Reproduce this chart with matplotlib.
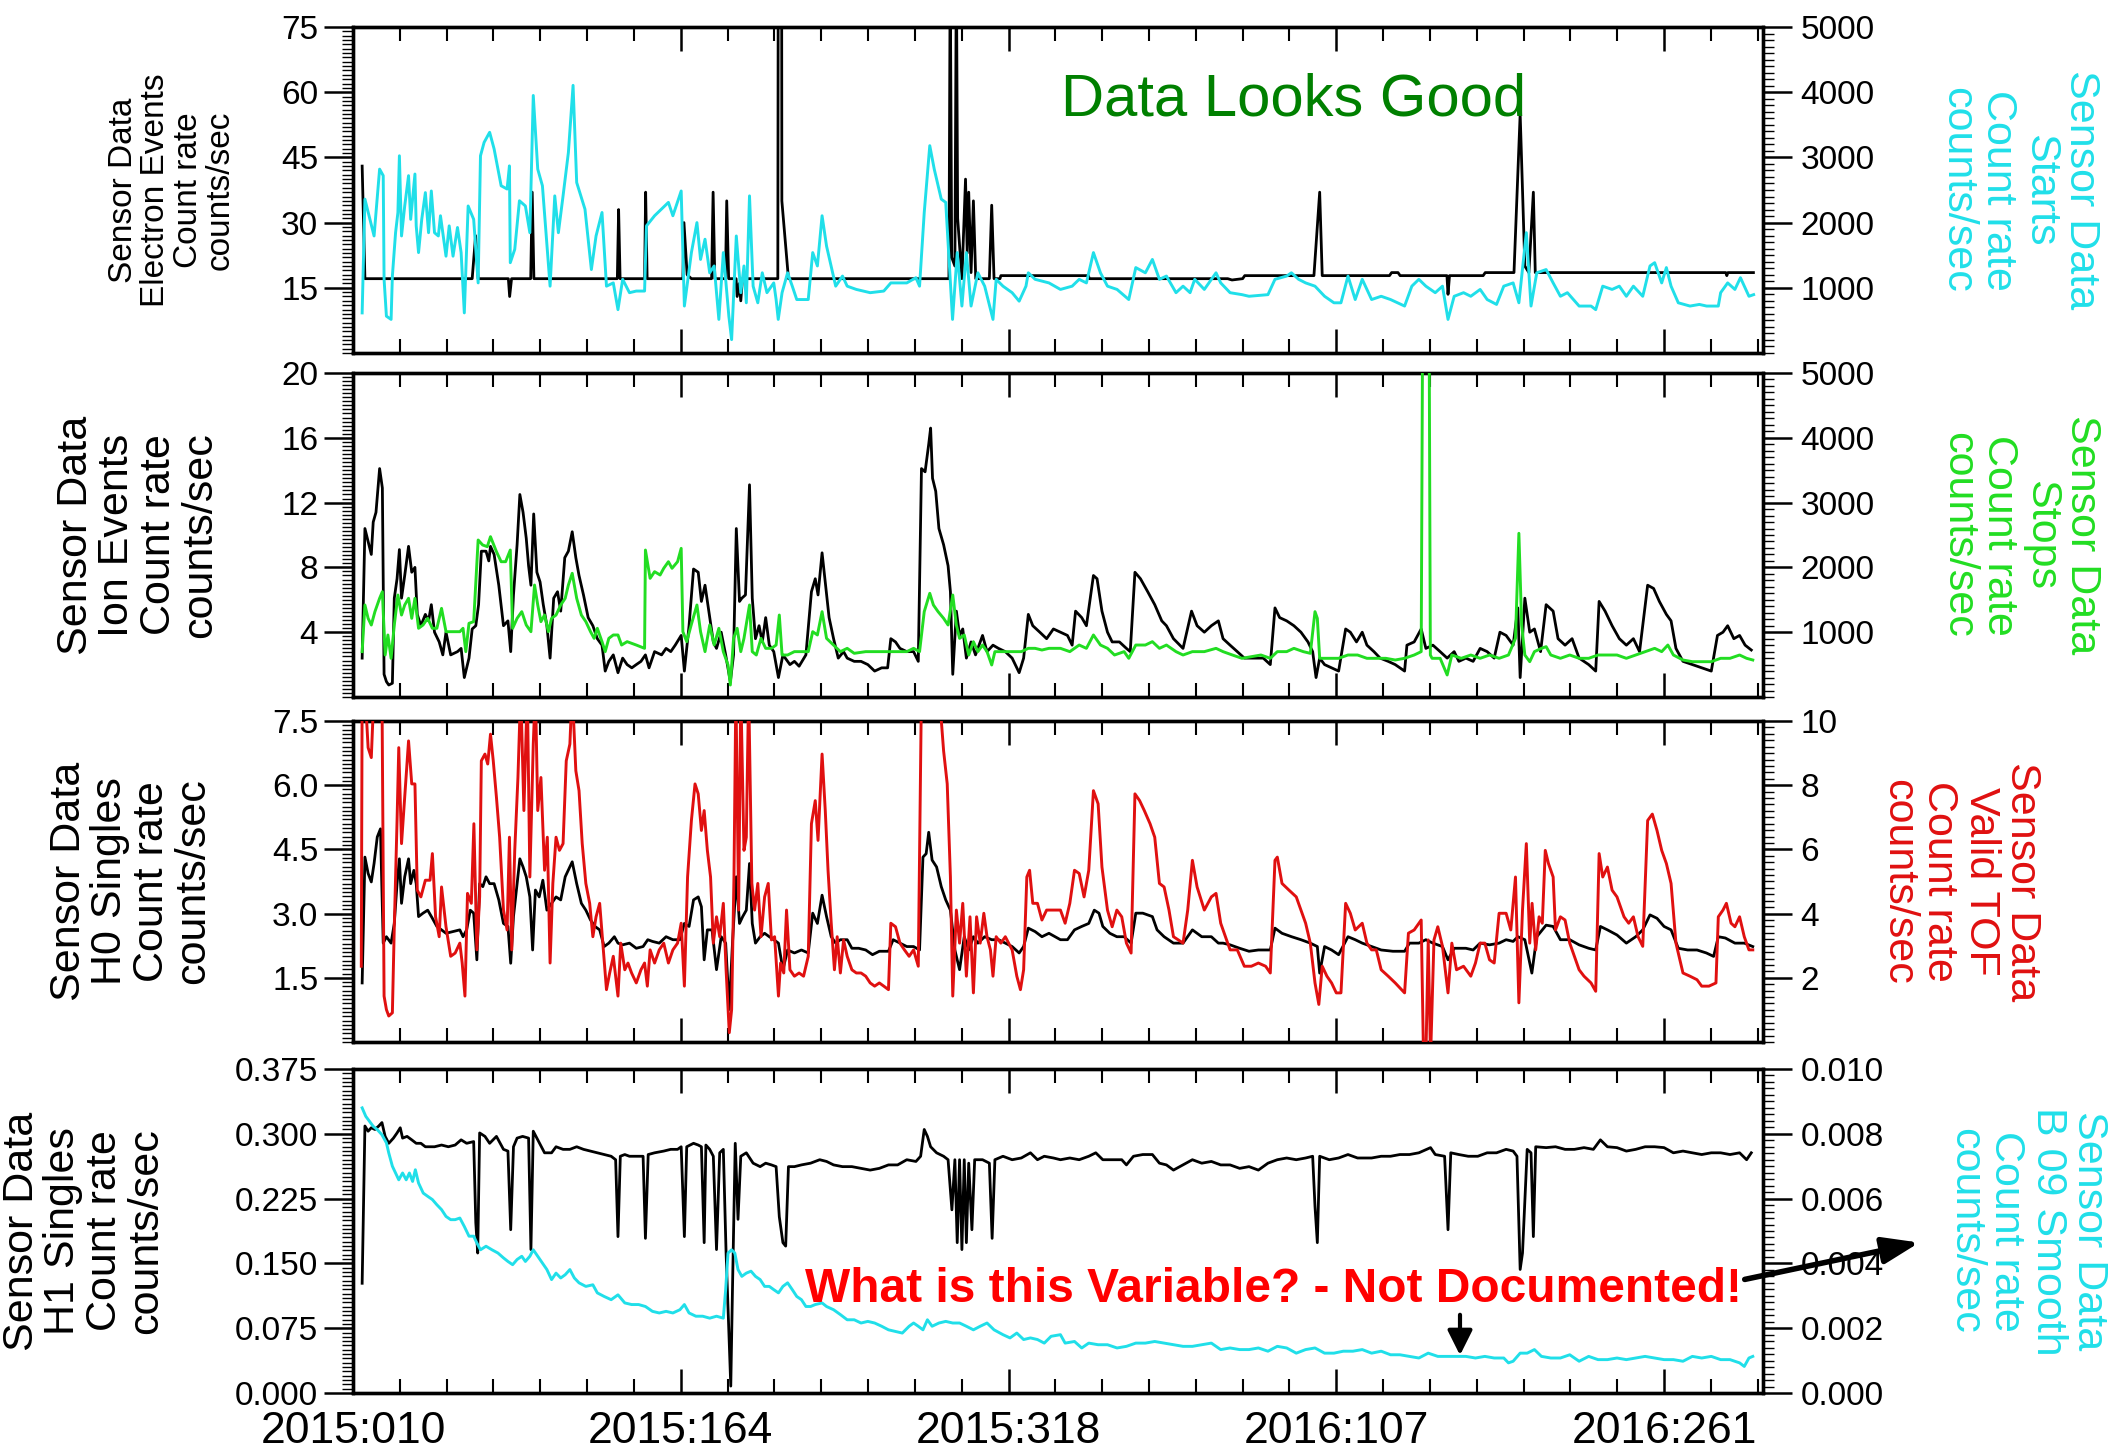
import matplotlib
matplotlib.use('Agg')
import matplotlib.pyplot as plt
from matplotlib import font_manager
from matplotlib.patches import FancyArrowPatch
from matplotlib.ticker import FixedLocator, MultipleLocator

W, H, DPI = 2114, 1448, 100

avail = {f.name for f in font_manager.fontManager.ttflist}
SANS = 'Liberation Sans' if 'Liberation Sans' in avail else 'DejaVu Sans'
plt.rcParams['font.family'] = [SANS, 'DejaVu Sans']

# ---------------- data (x = day counted from 2015:000) ----------------
X_TICKS = [10, 164, 318, 472, 626]
X_TICK_LABELS = ['2015:010', '2015:164', '2015:318', '2016:107', '2016:261']
X_RANGE = (10, 672.5)

ELECTRON_EVENTS = [(14.3,43),(15.6,17.1),(66.0,17.1),(67.6,27),(68.8,17.1),(83.0,17.1),(83.6,13),(84.5,17.1),
    (93.5,17.1),(94.2,37),(95.0,17.1),(134.2,17.1),(134.8,33),(135.5,17.1),(147.0,17.1),(147.5,37),(148.2,17.1),
    (165.0,17.1),(165.5,30),(167.0,18),(169.0,17.1),(178.5,17.1),(179.2,37),(180.0,17.1),(185.0,17.1),(185.6,35),
    (186.5,17.1),(190.0,17.1),(190.5,13),(191.5,16),(192.2,12),(193.0,17.1),(209.6,17.1),(209.8,90),(211.4,90),
    (211.5,35),(214.6,17.1),(290.0,17.1),(290.6,90),(291.3,22),(292.8,20),(293.5,90),(294.1,31),(296.1,17.1),
    (297.8,40),(298.6,23),(299.3,37),(300.4,18.5),(301.5,35),(302.6,17.1),(309.0,17.1),(310.1,34),(311.2,17.1),
    (314.0,17.1),(314.4,17.8),(355.5,17.8),(356.0,17.1),(421.0,17.1),(423.0,16.8),(428.0,17.1),(429.0,17.8),
    (461.5,17.8),(464.2,37),(465.4,17.8),(497.0,17.8),(498.0,18.5),(501.0,18.5),(502.0,17.8),(524.0,17.8),
    (524.5,13.5),(525.2,17.8),(541.0,17.8),(542.0,18.5),(555.5,18.5),(558.4,55),(560.6,20),(562.5,18.5),
    (564.6,37),(565.5,18.5),(655.0,18.5),(655.5,17.8),(656.0,18.5),(668.0,18.5)]

STARTS = [(14.3,615),(15.6,2360),(19.9,1795),(22.5,2820),(24.2,2720),(24.6,1130),(25.7,565),(27.9,515),(28.5,1180),
    (30.0,1845),(31.1,2155),(31.8,3025),(32.8,1795),(34.3,2255),(36.1,2720),(37.1,2050),(39.1,2745),(39.7,1950),
    (40.8,1540),(42.3,2050),(44.0,2460),(45.5,1845),(46.8,2485),(48.3,1845),(50.1,1795),(51.1,2105),(53.7,1485),
    (55.2,1950),(57.0,1485),(59.1,1925),(60.8,1540),(62.3,615),(64.1,2255),(66.7,2050),(68.8,1075),(69.9,3025),
    (71.6,3230),(74.2,3385),(76.3,3130),(79.6,2565),(82.4,2515),(83.5,2870),(83.9,1385),(86.0,1590),(88.2,2335),
    (91.0,2255),(93.1,1845),(94.7,3950),(96.8,2820),(99.0,2565),(102.6,1025),(104.8,2410),(106.5,1845),(108.7,2410),
    (111.2,3075),(113.4,4105),(115.1,2615),(119.0,2205),(122.0,1280),(124.2,1795),(127.0,2155),(129.1,1025),
    (132.3,1075),(134.5,665),(136.7,1130),(139.9,925),(143.1,950),(147.0,950),(147.9,1950),(151.7,2105),
    (158.2,2310),(160.3,2105),(164.2,2485),(165.7,720),(169.0,1540),(171.6,2000),(173.3,1435),(175.4,1745),
    (177.6,1230),(179.7,1335),(181.9,515),(184.0,1540),(186.6,565),(187.9,205),(190.1,1795),(192.2,925),
    (193.7,1335),(194.8,770),(196.3,2410),(198.0,1025),(200.2,770),(202.3,1230),(204.5,925),(207.7,1075),
    (208.8,820),(209.8,515),(211.6,925),(214.2,1230),(216.4,1025),(218.5,820),(223.9,820),(226.0,1540),
    (228.2,1335),(230.4,2105),(232.5,1640),(236.8,1025),(240.0,1180),(242.2,1025),(246.5,975),(253.0,925),
    (259.4,950),(262.7,1075),(270.2,1075),(274.5,1155),(276.2,1025),(278.4,2155),(281.0,3180),(283.1,2820),
    (286.4,2360),(288.5,2310),(291.7,515),(293.9,1540),(296.1,720),(298.2,1540),(300.4,720),(303.6,1230),
    (306.8,1025),(310.7,515),(312.2,1130),(315.4,1025),(319.7,925),(323.0,795),(326.2,1025),(327.3,1230),
    (330.5,1130),(337.0,1075),(342.4,975),(347.9,1025),(351.2,1130),(354.6,1075),(357.9,1540),(361.2,1230),
    (364.5,1025),(369.0,975),(374.5,820),(377.8,1310),(382.3,1230),(385.6,1435),(388.9,1130),(392.2,1180),
    (396.7,925),(400.0,1025),(403.3,925),(405.5,1130),(410.0,975),(415.5,1230),(417.7,1075),(422.1,925),
    (427.7,895),(431.0,870),(439.9,895),(443.2,1130),(448.7,1180),(450.9,1230),(454.3,1130),(457.6,1075),
    (462.0,1025),(466.5,870),(470.9,770),(474.2,770),(477.5,1180),(480.9,820),(484.2,1130),(488.6,820),
    (493.1,870),(497.5,820),(504.1,720),(507.5,1025),(510.8,1130),(514.1,1025),(518.5,925),(521.9,1025),
    (524.5,515),(527.4,870),(531.8,925),(535.2,870),(539.6,975),(542.9,820),(547.3,745),(550.7,1025),
    (555.1,1075),(557.8,770),(561.3,1845),(563.5,720),(566.2,1230),(570.6,1280),(573.9,1075),(577.3,870),
    (580.6,925),(586.1,720),(591.7,720),(593.9,665),(597.2,1025),(601.6,975),(605.0,1025),(608.3,870),
    (611.6,1025),(616.0,870),(619.4,1335),(621.6,1385),(624.9,1075),(627.1,1310),(629.3,1025),(632.7,770),
    (638.2,720),(642.6,745),(646.0,720),(651.5,720),(652.6,925),(655.9,1075),(659.3,975),(661.9,1155),
    (665.9,870),(668.1,895)]

ION_EVENTS = [(14.3,2.4),(15.6,10.4),(17.1,9.6),(18.6,8.8),(19.5,10.8),(20.8,11.4),(22.5,14.1),(23.8,12.9),
    (24.6,1.4),(25.7,0.95),(26.8,0.74),(28.5,0.85),(29.4,6.1),(30.7,7.3),(31.8,9.1),(32.8,6.1),(34.3,7.5),
    (36.1,9.3),(37.6,7.7),(39.1,8.0),(40.2,5.1),(41.9,4.4),(44.0,5.1),(45.5,4.7),(46.8,5.7),(48.3,4.0),(50.5,3.4),
    (52.2,2.6),(53.7,4.0),(55.9,2.6),(59.1,2.8),(60.8,3.0),(62.3,1.2),(64.5,2.4),(66.0,4.2),(67.7,4.4),(69.0,5.7),
    (70.3,9.0),(72.5,9.0),(73.8,8.4),(74.6,9.3),(76.3,8.8),(78.5,6.9),(80.7,4.4),(82.8,4.7),(84.1,2.8),(85.4,6.3),
    (87.1,9.4),(88.4,12.5),(89.9,11.4),(91.4,9.8),(92.5,8.1),(93.6,6.9),(94.9,11.3),(96.4,7.7),(97.9,7.1),
    (99.4,5.7),(101.1,4.4),(102.6,2.4),(104.3,6.1),(106.1,6.5),(107.6,5.3),(109.5,8.6),(111.2,9.0),(113.0,10.2),
    (114.7,8.6),(116.2,7.5),(118.3,6.3),(120.5,4.9),(122.7,4.4),(124.8,3.6),(127.0,3.2),(128.5,1.6),(130.2,2.2),
    (132.3,2.6),(134.5,1.5),(136.7,2.4),(138.8,2.0),(141.0,1.8),(143.1,2.0),(145.3,2.2),(147.4,2.6),(149.1,1.8),
    (151.7,2.8),(155.0,2.6),(157.1,3.0),(159.3,2.8),(161.4,3.2),(164.2,3.8),(165.7,1.6),(167.9,4.4),(170.0,7.9),
    (172.2,7.7),(173.7,5.9),(175.4,6.9),(177.6,4.9),(179.3,3.4),(180.8,3.0),(183.0,4.0),(185.1,2.6),(187.3,0.95),
    (188.8,2.6),(190.1,10.4),(191.6,5.9),(192.7,6.1),(194.4,6.3),(196.3,13.1),(197.6,6.1),(199.1,3.6),(200.8,4.4),
    (202.3,3.4),(203.9,4.9),(205.6,3.2),(207.7,2.8),(209.9,1.2),(212.0,2.6),(215.3,2.0),(217.4,2.2),(219.6,1.9),
    (222.8,2.6),(225.4,6.5),(227.2,7.3),(228.5,6.3),(230.4,8.9),(231.9,7.1),(233.7,4.9),(235.8,3.6),(238.0,2.4),
    (240.5,2.8),(242.2,2.4),(245.5,2.2),(248.7,2.2),(251.9,2.0),(255.1,1.6),(258.4,1.8),(261.2,1.8),(262.7,3.6),
    (264.9,3.4),(267.0,3.0),(270.2,2.8),(273.4,2.8),(275.6,2.2),(277.1,14.1),(278.8,13.9),(280.5,15.6),
    (281.4,16.6),(282.3,13.5),(283.8,12.7),(285.3,10.4),(287.5,9.4),(289.6,8.1),(290.7,6.5),(291.8,1.4),
    (293.5,5.3),(295.0,3.8),(296.5,4.2),(298.2,2.4),(300.4,3.4),(302.5,2.6),(305.8,3.8),(307.9,2.8),(310.7,3.2),
    (313.3,3.0),(316.5,2.8),(319.7,2.4),(323.0,1.5),(325.1,2.4),(327.3,5.1),(329.4,4.4),(332.7,4.0),(335.9,3.6),
    (339.1,4.2),(342.4,4.0),(345.7,3.8),(347.9,3.2),(349.5,5.3),(352.4,4.9),(354.6,4.4),(357.9,7.5),(359.6,7.3),
    (361.9,5.3),(364.5,4.0),(366.7,3.4),(370.1,3.4),(373.4,3.0),(375.2,2.8),(377.4,7.7),(380.0,7.3),(383.4,6.5),
    (386.7,5.7),(390.0,4.7),(392.2,4.4),(395.5,3.6),(400.0,3.0),(404.0,5.3),(406.6,4.4),(410.0,4.0),(413.3,4.4),
    (416.6,4.7),(418.8,3.6),(422.1,3.2),(425.5,2.8),(428.8,2.4),(433.2,2.4),(437.7,2.4),(441.0,2.0),(443.2,5.5),
    (445.4,4.9),(448.7,4.7),(452.1,4.4),(455.4,4.0),(458.7,3.4),(460.9,2.8),(462.5,1.2),(464.2,2.4),(466.5,2.0),
    (469.8,1.8),(473.1,1.6),(476.4,4.2),(478.6,4.0),(481.5,3.4),(484.2,4.0),(486.4,3.2),(489.7,2.8),(492.6,2.4),
    (496.4,2.2),(499.7,2.0),(504.1,1.6),(505.2,3.2),(508.6,3.4),(511.9,4.2),(514.1,3.0),(517.4,3.2),(520.8,2.8),
    (524.1,2.4),(527.4,2.8),(529.6,2.2),(532.9,2.4),(536.3,2.2),(539.6,3.0),(542.9,2.8),(546.2,2.4),(548.9,4.0),
    (551.8,3.8),(555.1,3.2),(557.3,5.5),(558.4,1.2),(560.6,6.1),(562.9,4.0),(565.1,4.2),(568.0,2.8),(570.6,5.7),
    (573.9,5.3),(576.2,3.6),(579.5,3.2),(582.8,3.6),(586.1,2.4),(590.6,2.0),(593.9,1.6),(595.5,5.9),(598.3,5.3),
    (601.6,4.4),(605.0,3.6),(608.3,3.2),(611.6,3.6),(614.5,2.8),(618.3,6.9),(621.1,6.7),(623.8,5.9),(627.1,5.1),
    (629.3,4.7),(631.6,3.0),(634.9,2.2),(639.3,2.0),(643.7,1.8),(648.2,1.6),(651.1,3.8),(653.7,4.0),(655.9,4.4),
    (658.8,3.6),(661.5,3.8),(664.1,3.2),(667.0,2.9)]

STOPS = [(14.3,700),(15.6,1420),(17.1,1214),(18.6,1111),(20.3,1317),(22.5,1523),(23.8,1625),(25.1,648),(26.4,957),
    (27.9,597),(29.4,1111),(31.1,1574),(32.8,1265),(34.3,1420),(36.1,1523),(37.6,1214),(39.1,1523),(40.8,1060),
    (42.9,1111),(45.1,1214),(47.3,1060),(49.4,1060),(51.6,1368),(53.7,1008),(57.0,1008),(60.2,1008),(61.7,1060),
    (63.0,700),(64.5,1137),(66.7,1163),(68.8,2423),(70.9,2346),(73.1,2320),(74.6,2474),(77.4,2243),(79.6,2088),
    (81.7,2088),(83.9,2268),(85.0,1060),(87.1,1214),(89.3,1317),(91.4,1111),(93.6,1008),(95.3,1728),(96.8,1420),
    (98.3,1163),(100.0,1265),(101.8,1008),(103.3,1214),(105.4,1265),(107.6,1420),(109.7,1523),(111.2,1728),
    (113.0,1909),(115.1,1523),(117.3,1265),(119.4,1163),(121.6,1008),(123.3,905),(124.8,1060),(127.0,854),
    (128.5,700),(130.2,905),(132.3,957),(134.5,957),(136.2,802),(138.8,854),(143.1,802),(147.0,751),(147.4,2268),
    (149.6,1831),(151.7,1934),(154.3,1883),(156.0,1986),(158.2,2088),(159.9,1986),(162.5,2088),(164.2,2294),
    (165.0,1008),(166.8,854),(168.9,1111),(171.6,1420),(173.3,1008),(175.4,700),(177.6,1111),(179.7,802),
    (181.9,1060),(184.0,700),(186.2,494),(187.3,185),(188.8,905),(190.5,1060),(192.2,700),(193.7,905),(196.3,1420),
    (197.6,700),(199.5,648),(201.7,905),(203.9,751),(206.6,751),(208.8,802),(210.3,1265),(211.6,648),(214.2,648),
    (217.4,700),(220.7,700),(223.9,700),(226.0,1008),(228.2,957),(230.4,1317),(232.5,905),(235.8,802),(239.0,700),
    (242.2,751),(245.5,674),(250.9,700),(257.3,700),(263.8,700),(270.2,700),(273.4,751),(276.2,700),(278.4,1317),
    (281.0,1600),(282.7,1420),(284.9,1317),(287.5,1214),(289.6,1111),(291.8,1574),(293.5,1111),(295.0,905),
    (297.2,957),(299.3,648),(301.5,854),(303.6,700),(305.8,802),(307.9,700),(310.1,494),(311.6,700),(315.4,700),
    (319.7,700),(324.0,700),(327.3,751),(330.5,751),(333.7,725),(337.0,751),(342.4,751),(346.8,700),(351.2,802),
    (354.6,751),(357.9,957),(361.2,802),(364.5,751),(367.8,648),(372.3,700),(374.5,597),(377.8,802),(382.3,802),
    (385.6,854),(388.9,751),(392.2,802),(396.7,700),(400.0,648),(404.4,700),(410.0,700),(415.5,751),(418.8,700),
    (423.2,648),(427.7,597),(432.1,622),(436.6,648),(441.0,597),(444.3,700),(448.7,700),(452.1,751),(456.5,700),
    (459.8,674),(462.0,1317),(463.1,1214),(464.2,597),(468.7,597),(473.1,597),(477.5,648),(482.0,648),(486.4,597),
    (490.8,597),(495.3,597),(499.7,571),(504.1,597),(508.6,648),(511.9,700),(512.6,6000),(515.6,6000),
    (516.2,648),(517.0,597),(520.8,597),(524.1,340),(526.3,648),(530.7,597),(535.2,648),(539.6,597),(544.0,648),
    (548.5,597),(552.9,648),(556.2,905),(557.8,2526),(559.1,1111),(560.6,648),(562.9,545),(565.1,700),(568.4,751),
    (570.6,777),(572.8,648),(577.3,597),(581.7,648),(586.1,597),(590.6,597),(595.0,648),(599.4,648),(603.9,648),
    (608.3,597),(612.7,648),(617.1,700),(621.6,751),(624.9,700),(627.8,802),(630.4,648),(634.9,571),(639.3,545),
    (643.7,545),(648.2,545),(652.6,597),(657.0,597),(661.5,648),(664.8,597),(667.7,571)]

H0_SINGLES = [(14.3,1.38),(15.6,4.32),(17.1,3.94),(18.6,3.74),(19.9,4.17),(21.4,4.79),(22.9,4.98),(24.2,2.31),
    (25.7,2.46),(27.9,2.31),(29.4,2.77),(30.7,3.70),(31.8,4.28),(32.8,3.24),(34.3,3.86),(36.1,4.28),(37.1,3.70),
    (38.6,4.01),(39.7,3.70),(40.8,2.93),(42.9,3.01),(45.1,3.08),(47.3,2.89),(49.4,2.70),(51.6,2.62),(53.7,2.54),
    (57.0,2.58),(60.2,2.62),(61.7,2.46),(63.4,2.62),(65.1,3.08),(66.7,3.01),(68.2,1.92),(69.5,3.70),(71.0,3.63),
    (72.5,3.86),(74.2,3.70),(76.3,3.70),(78.5,3.32),(80.7,2.77),(82.8,2.70),(84.1,1.84),(85.4,2.93),(87.1,3.70),
    (88.4,4.28),(89.9,4.09),(91.4,3.86),(93.1,3.39),(94.4,2.15),(95.7,3.55),(97.5,3.39),(99.2,3.78),(101.1,3.08),
    (103.3,3.24),(105.4,3.39),(107.6,3.32),(109.7,3.86),(111.9,4.09),(113.0,4.21),(115.1,3.70),(117.3,3.24),
    (119.4,3.08),(121.6,2.85),(123.7,2.70),(125.9,2.62),(128.0,2.23),(130.2,2.31),(132.8,2.46),(134.5,2.31),
    (136.7,2.27),(139.9,2.31),(143.1,2.19),(146.3,2.23),(148.5,2.39),(150.7,2.35),(153.9,2.31),(157.1,2.46),
    (160.3,2.39),(163.6,2.39),(165.7,2.77),(167.9,2.70),(170.0,3.32),(172.2,3.39),(173.7,3.16),(175.0,1.92),
    (176.5,2.62),(178.7,2.62),(180.8,1.69),(183.0,2.46),(185.1,2.31),(186.8,0.76),(188.3,2.31),(190.1,3.86),
    (191.6,2.77),(193.1,2.93),(194.8,3.08),(196.3,4.17),(197.6,2.77),(199.1,2.31),(201.3,2.46),(203.4,2.54),
    (205.6,2.46),(207.7,2.39),(209.9,2.31),(212.0,1.69),(214.2,2.15),(217.4,2.08),(220.7,2.15),(223.9,2.08),
    (226.0,3.01),(228.2,2.77),(230.4,3.43),(232.5,2.93),(234.7,2.46),(236.8,2.31),(239.0,2.39),(242.2,2.39),
    (244.4,2.19),(247.6,2.19),(250.9,2.15),(254.1,2.04),(257.3,2.12),(261.6,2.12),(263.8,2.39),(267.0,2.31),
    (270.2,2.23),(273.4,2.23),(276.2,2.15),(277.8,4.32),(279.3,4.40),(280.5,4.90),(282.1,4.25),(284.2,4.09),
    (286.4,3.63),(288.5,3.32),(290.7,3.08),(292.8,2.15),(295.0,1.69),(297.2,2.46),(299.3,2.15),(301.5,2.46),
    (303.6,2.31),(306.8,2.46),(310.1,2.39),(313.3,2.39),(316.5,2.31),(319.7,2.23),(323.0,2.08),(325.1,2.23),
    (327.3,2.66),(330.5,2.58),(333.7,2.46),(337.0,2.54),(342.4,2.39),(345.7,2.39),(349.0,2.62),(352.4,2.70),
    (355.7,2.77),(358.3,3.08),(360.5,3.01),(362.3,2.70),(365.6,2.54),(368.9,2.46),(372.3,2.46),(375.6,2.31),
    (377.8,3.01),(381.1,3.01),(385.6,2.93),(387.8,2.62),(391.1,2.46),(395.5,2.31),(400.0,2.31),(404.4,2.62),
    (408.8,2.46),(413.3,2.46),(416.6,2.31),(418.8,2.31),(422.1,2.27),(426.6,2.19),(431.0,2.12),(435.4,2.15),
    (441.0,2.15),(443.2,2.66),(446.5,2.54),(451.0,2.46),(455.4,2.39),(459.8,2.31),(463.1,2.23),(464.2,1.61),
    (466.5,2.23),(469.8,2.15),(473.1,2.04),(477.5,2.46),(480.9,2.39),(484.2,2.31),(488.6,2.23),(493.1,2.15),
    (498.6,2.12),(504.1,2.12),(506.4,2.31),(510.8,2.31),(514.1,2.39),(517.4,2.31),(521.9,2.23),(524.5,1.92),
    (527.4,2.19),(532.9,2.19),(536.3,2.15),(539.6,2.31),(544.0,2.27),(548.5,2.31),(551.8,2.39),(555.1,2.35),
    (557.3,2.46),(560.6,2.39),(563.9,1.61),(566.2,2.46),(570.6,2.73),(573.9,2.70),(577.3,2.39),(581.7,2.39),
    (586.1,2.27),(590.6,2.19),(593.9,2.15),(596.1,2.70),(599.4,2.62),(603.9,2.50),(608.3,2.31),(612.7,2.46),
    (616.0,2.62),(619.4,2.97),(622.7,2.89),(626.0,2.70),(629.3,2.62),(632.7,2.19),(637.1,2.15),(641.5,2.15),
    (645.9,2.08),(649.3,2.00),(651.5,2.46),(654.8,2.43),(659.3,2.31),(663.7,2.31),(667.7,2.23)]

VALID_TOF = [(13.9,2.36),(14.3,11),(15.6,11),(17.1,9.17),(18.6,8.86),(19.9,11),(22.1,11),(23.6,11),(24.6,1.43),
    (25.7,1.01),(26.8,0.81),(28.5,0.91),(29.4,3.59),(30.7,6.90),(31.5,9.17),(32.8,6.18),(34.3,7.62),(36.1,9.38),
    (37.6,8.04),(39.1,8.04),(40.2,4.73),(41.9,4.52),(44.0,5.04),(46.2,5.04),(47.3,5.87),(48.8,3.90),(50.5,3.28),
    (51.6,4.83),(53.7,3.59),(55.9,2.67),(58.0,2.77),(60.2,3.08),(61.3,2.46),(62.6,1.43),(63.8,4.63),(65.6,4.32),
    (66.8,6.80),(68.2,2.87),(69.5,4.52),(70.3,8.76),(72.0,8.97),(73.3,8.66),(74.6,9.59),(75.9,8.76),(77.4,7.62),
    (78.9,6.38),(80.7,4.11),(82.4,3.49),(83.5,6.38),(84.6,2.87),(86.0,5.97),(87.5,8.24),(88.8,11),(90.3,7.21),
    (91.9,11),(93.1,5.14),(94.7,9.28),(95.7,11),(96.8,7.21),(98.3,8.24),(100.0,5.35),(101.3,6.38),(102.6,2.46),
    (103.9,4.94),(105.4,6.38),(107.0,5.97),(108.7,6.18),(110.2,8.76),(111.9,9.28),(113.0,11),(114.7,8.45),
    (116.2,7.83),(117.7,6.18),(119.4,4.94),(121.2,4.32),(122.7,3.28),(124.2,3.90),(125.9,4.32),(127.6,2.87),
    (129.1,1.63),(130.6,2.15),(132.3,2.67),(134.5,1.43),(135.8,3.08),(137.7,2.25),(139.2,2.46),(140.9,2.15),
    (143.1,1.84),(145.3,2.25),(147.0,2.46),(148.3,1.74),(149.6,2.87),(151.7,2.46),(153.9,2.87),(156.0,3.08),
    (158.2,2.46),(160.3,2.87),(162.5,3.08),(164.2,3.70),(165.7,1.74),(167.2,5.14),(169.0,6.90),(170.7,8.04),
    (172.2,7.73),(173.7,6.59),(175.0,7.21),(176.5,5.97),(178.0,5.14),(179.3,3.08),(180.8,3.90),(182.3,3.28),
    (184.0,4.32),(185.3,2.25),(186.8,0.29),(187.9,1.01),(189.0,5.14),(189.9,11),(191.2,4.11),(192.2,11),
    (193.7,5.97),(194.8,6.38),(195.9,11),(197.4,4.94),(198.7,4.11),(200.2,4.94),(201.7,3.28),(203.4,4.52),
    (205.1,4.94),(206.6,3.18),(208.1,3.28),(209.9,1.43),(210.9,2.46),(212.4,2.15),(213.7,4.11),(215.3,2.25),
    (217.4,2.05),(219.6,2.15),(221.7,2.05),(223.9,2.67),(225.4,6.80),(227.2,7.52),(228.5,6.28),(230.4,8.97),
    (231.9,7.21),(233.2,5.35),(234.7,3.70),(236.2,2.25),(237.5,3.28),(239.0,2.15),(240.5,3.18),(242.2,2.67),
    (244.4,2.25),(246.5,2.15),(248.7,2.15),(250.9,2.05),(253.0,1.84),(255.1,1.74),(257.3,1.84),(259.4,1.74),
    (261.6,1.63),(262.7,3.70),(264.9,3.59),(267.0,3.08),(269.1,2.87),(271.3,2.67),(273.4,2.87),(275.6,2.36),
    (277.1,11),(285.3,11),(287.5,9.07),(289.2,8.04),(290.7,5.14),(291.8,1.43),(293.5,4.11),(295.0,3.08),
    (296.5,4.32),(298.2,2.05),(299.9,3.90),(301.5,1.53),(303.0,3.90),(304.7,3.08),(306.4,4.01),(307.9,3.28),
    (309.5,2.87),(310.7,2.05),(312.2,3.28),(314.4,3.08),(316.5,3.28),(319.7,2.87),(321.9,2.05),(323.6,1.63),
    (325.1,2.25),(326.6,5.14),(327.9,5.35),(329.4,4.32),(331.6,4.32),(333.7,3.80),(335.9,4.11),(338.0,4.11),
    (342.4,4.11),(344.6,3.70),(346.8,4.32),(349.0,5.35),(351.2,5.25),(353.5,4.52),(355.7,5.35),(357.9,7.83),
    (360.1,7.42),(361.9,5.45),(364.5,4.11),(366.7,3.59),(368.9,4.11),(371.2,3.90),(373.4,3.08),(375.6,2.77),
    (377.4,7.73),(379.6,7.52),(381.8,7.21),(384.5,6.80),(386.7,6.38),(388.9,4.94),(391.1,4.83),(393.4,4.11),
    (395.5,3.28),(397.8,3.18),(400.0,3.08),(402.2,4.11),(404.4,5.66),(406.6,4.83),(410.0,4.11),(413.3,4.52),
    (415.5,4.63),(417.7,3.70),(419.9,3.28),(422.1,2.87),(425.5,2.87),(428.8,2.36),(432.1,2.36),(435.4,2.46),
    (438.8,2.36),(441.0,2.15),(443.2,5.66),(444.3,5.76),(446.5,4.94),(449.8,4.73),(453.2,4.52),(455.4,4.11),
    (457.6,3.70),(459.8,3.08),(462.0,1.84),(463.8,1.17),(465.4,2.36),(467.6,2.05),(469.8,1.84),(472.0,1.53),
    (474.2,1.53),(476.4,4.32),(478.6,4.01),(480.9,3.49),(484.2,3.70),(486.4,3.08),(488.6,2.87),(490.8,2.87),
    (493.1,2.25),(496.4,2.05),(499.7,1.84),(504.1,1.53),(505.9,3.39),(508.6,3.49),(511.9,3.80),(513.0,-0.5),
    (514.1,-0.5),(515.2,3.18),(516.3,-0.5),(517.9,3.18),(519.7,3.59),(521.9,2.98),(524.5,1.53),(526.3,3.08),
    (528.5,2.25),(531.8,2.36),(535.2,2.05),(537.4,2.46),(539.6,3.08),(541.8,3.08),(544.0,2.56),(546.2,2.46),
    (548.5,4.01),(551.8,4.01),(554.0,3.49),(556.2,5.14),(557.8,1.22),(559.5,4.11),(561.3,6.18),(562.9,3.08),
    (564.0,4.32),(565.7,2.87),(567.3,3.90),(568.8,3.70),(570.2,5.97),(571.7,5.56),(573.9,5.14),(575.0,3.49),
    (577.3,3.90),(579.5,3.80),(581.7,3.08),(583.9,2.67),(586.1,2.25),(588.4,2.05),(591.7,1.84),(593.9,1.58),
    (595.5,5.87),(597.2,5.14),(599.4,5.45),(601.6,4.73),(603.9,4.52),(607.2,3.90),(609.4,3.70),(611.6,3.90),
    (613.8,3.28),(616.0,2.98),(618.3,6.90),(620.5,7.10),(622.7,6.59),(624.9,5.97),(627.1,5.56),(629.3,4.94),
    (631.6,3.08),(634.9,2.15),(638.2,2.05),(641.5,1.94),(643.7,1.74),(647.1,1.74),(650.4,1.84),(651.5,3.90),
    (653.7,4.11),(655.3,4.32),(657.5,3.70),(659.3,3.59),(661.5,3.90),(663.7,3.28),(665.9,2.87),(667.7,2.87)]

H1_SINGLES = [(14.3,0.127),(15.6,0.309),(17.1,0.303),(18.6,0.307),(20.3,0.305),(22.1,0.309),(23.6,0.313),
    (25.1,0.297),(26.8,0.289),(29.0,0.295),(30.7,0.301),(32.2,0.307),(33.3,0.295),(35.4,0.297),(37.6,0.293),
    (39.7,0.289),(41.9,0.289),(44.0,0.285),(48.3,0.285),(51.6,0.287),(54.8,0.285),(58.0,0.287),(60.8,0.293),
    (63.4,0.289),(66.7,0.291),(67.7,0.197),(68.6,0.162),(69.5,0.301),(72.0,0.297),(74.2,0.289),(77.4,0.297),
    (80.7,0.282),(82.8,0.280),(84.1,0.189),(85.4,0.285),(87.1,0.295),(89.7,0.297),(92.5,0.295),(93.6,0.166),
    (94.7,0.303),(96.8,0.293),(100.0,0.278),(103.3,0.278),(105.4,0.285),(108.7,0.282),(111.9,0.282),(115.1,0.285),
    (118.3,0.282),(121.6,0.280),(124.8,0.278),(128.0,0.276),(131.3,0.274),(133.4,0.270),(134.5,0.181),
    (135.6,0.274),(137.7,0.276),(139.9,0.274),(143.1,0.274),(146.3,0.274),(147.4,0.179),(148.7,0.276),
    (151.7,0.278),(156.0,0.280),(159.3,0.282),(162.5,0.282),(164.2,0.285),(165.7,0.181),(166.8,0.285),
    (170.0,0.289),(172.2,0.287),(173.7,0.285),(175.0,0.174),(175.8,0.287),(177.6,0.282),(179.3,0.274),
    (180.8,0.166),(182.3,0.278),(184.0,0.282),(185.3,0.162),(186.6,0.069),(187.5,0.008),(188.3,0.120),
    (189.6,0.289),(190.9,0.201),(192.2,0.274),(194.8,0.278),(198.0,0.266),(201.3,0.262),(203.9,0.266),
    (206.6,0.264),(208.8,0.262),(210.3,0.204),(212.0,0.174),(213.3,0.170),(214.6,0.262),(217.4,0.262),
    (220.7,0.264),(225.0,0.266),(229.3,0.270),(232.5,0.268),(235.8,0.264),(240.0,0.262),(244.4,0.262),
    (248.7,0.260),(253.0,0.258),(257.3,0.260),(261.6,0.264),(265.9,0.264),(270.2,0.270),(274.5,0.268),
    (276.7,0.274),(278.4,0.305),(279.9,0.297),(281.4,0.285),(284.2,0.278),(287.5,0.274),(289.6,0.270),
    (291.4,0.212),(292.8,0.270),(293.9,0.174),(295.0,0.270),(296.1,0.166),(297.2,0.270),(298.2,0.174),
    (299.3,0.266),(300.8,0.189),(302.1,0.270),(305.8,0.270),(309.0,0.266),(310.3,0.179),(311.6,0.270),
    (315.4,0.274),(319.7,0.270),(324.0,0.272),(328.3,0.278),(331.6,0.270),(334.8,0.274),(339.1,0.272),
    (342.4,0.270),(346.8,0.272),(351.2,0.270),(355.7,0.274),(359.0,0.278),(362.3,0.270),(366.7,0.270),
    (371.2,0.270),(373.4,0.264),(376.7,0.274),(381.1,0.276),(385.6,0.276),(388.9,0.266),(392.2,0.264),
    (395.5,0.258),(400.0,0.264),(404.4,0.270),(408.8,0.266),(413.3,0.268),(417.7,0.264),(422.1,0.264),
    (426.6,0.260),(431.0,0.262),(435.4,0.258),(439.9,0.266),(444.3,0.270),(448.7,0.272),(453.2,0.270),
    (457.6,0.272),(460.9,0.274),(462.0,0.216),(463.1,0.174),(464.2,0.274),(468.7,0.270),(473.1,0.272),
    (477.5,0.276),(482.0,0.272),(488.6,0.272),(493.1,0.274),(497.5,0.274),(501.9,0.276),(506.4,0.276),
    (510.8,0.278),(516.3,0.284),(518.5,0.276),(522.9,0.274),(524.5,0.189),(525.8,0.278),(529.6,0.276),
    (534.0,0.274),(538.5,0.274),(542.9,0.278),(547.3,0.278),(551.8,0.282),(555.1,0.280),(556.9,0.274),
    (558.4,0.143),(559.5,0.162),(561.7,0.282),(563.5,0.278),(564.6,0.181),(565.7,0.285),(570.6,0.284),
    (575.0,0.285),(579.5,0.282),(583.9,0.282),(588.4,0.284),(592.8,0.282),(596.1,0.293),(599.4,0.285),
    (603.9,0.284),(608.3,0.280),(612.7,0.282),(617.1,0.285),(621.6,0.285),(626.0,0.284),(630.4,0.278),
    (634.9,0.280),(639.3,0.278),(643.7,0.276),(648.2,0.278),(652.6,0.278),(657.0,0.276),(661.5,0.278),
    (664.8,0.270),(667.0,0.278)]

B09_SMOOTH = [(14.3,0.00880),(16.0,0.00854),(17.8,0.00838),(19.5,0.00823),(21.4,0.00813),(23.6,0.00797),
    (25.7,0.00772),(26.8,0.00741),(28.5,0.00700),(30.0,0.00679),(31.5,0.00658),(33.3,0.00679),(35.0,0.00658),
    (36.5,0.00679),(38.0,0.00653),(39.3,0.00689),(40.8,0.00648),(43.0,0.00617),(45.1,0.00607),(47.3,0.00597),
    (49.4,0.00581),(51.6,0.00566),(53.7,0.00545),(55.9,0.00535),(58.0,0.00535),(60.2,0.00540),(62.3,0.00514),
    (64.5,0.00484),(66.7,0.00484),(68.2,0.00463),(69.9,0.00442),(72.5,0.00453),(75.3,0.00442),(78.1,0.00432),
    (80.7,0.00417),(82.8,0.00406),(85.0,0.00396),(87.1,0.00412),(89.3,0.00422),(91.0,0.00406),(93.1,0.00422),
    (94.7,0.00442),(96.8,0.00422),(99.0,0.00401),(101.1,0.00381),(103.3,0.00350),(105.4,0.00370),(107.6,0.00355),
    (109.7,0.00365),(111.9,0.00381),(114.0,0.00355),(116.2,0.00340),(119.4,0.00329),(122.7,0.00334),
    (124.8,0.00309),(128.0,0.00298),(131.3,0.00288),(134.5,0.00303),(137.7,0.00278),(140.9,0.00273),
    (144.2,0.00273),(147.4,0.00267),(150.7,0.00252),(153.9,0.00247),(157.1,0.00252),(160.3,0.00247),
    (163.6,0.00257),(165.7,0.00273),(167.9,0.00247),(171.1,0.00237),(174.3,0.00237),(177.6,0.00231),
    (180.8,0.00237),(184.0,0.00231),(185.1,0.00319),(186.2,0.00432),(187.9,0.00442),(189.4,0.00432),
    (190.9,0.00381),(192.7,0.00360),(194.8,0.00370),(197.0,0.00376),(199.1,0.00360),(201.3,0.00350),
    (203.4,0.00329),(205.6,0.00329),(207.7,0.00319),(209.9,0.00309),(212.0,0.00329),(214.2,0.00340),
    (216.4,0.00319),(218.5,0.00298),(220.7,0.00288),(222.8,0.00267),(225.0,0.00267),(227.2,0.00273),
    (230.4,0.00278),(232.5,0.00267),(235.8,0.00257),(239.0,0.00242),(242.2,0.00226),(245.5,0.00226),
    (248.7,0.00216),(251.9,0.00221),(255.1,0.00216),(258.4,0.00206),(261.6,0.00195),(264.9,0.00190),
    (268.1,0.00185),(271.3,0.00206),(273.4,0.00216),(275.6,0.00206),(277.8,0.00195),(279.9,0.00226),
    (282.1,0.00206),(285.3,0.00216),(288.5,0.00221),(291.8,0.00216),(295.0,0.00216),(298.2,0.00206),
    (301.5,0.00195),(304.7,0.00206),(307.9,0.00216),(311.2,0.00195),(315.4,0.00180),(318.7,0.00170),
    (321.9,0.00185),(325.1,0.00165),(328.3,0.00170),(331.6,0.00165),(334.8,0.00154),(338.0,0.00175),
    (342.4,0.00180),(344.6,0.00154),(349.0,0.00159),(352.4,0.00139),(355.7,0.00154),(360.1,0.00149),
    (364.5,0.00149),(369.0,0.00139),(373.4,0.00144),(377.8,0.00154),(382.3,0.00154),(386.7,0.00159),
    (391.1,0.00154),(395.5,0.00149),(400.0,0.00144),(404.4,0.00144),(408.8,0.00149),(413.3,0.00154),
    (417.7,0.00134),(422.1,0.00139),(426.6,0.00134),(431.0,0.00134),(435.4,0.00139),(439.9,0.00129),
    (444.3,0.00144),(448.7,0.00139),(453.2,0.00123),(457.6,0.00134),(462.0,0.00139),(466.5,0.00123),
    (470.9,0.00123),(475.3,0.00129),(479.8,0.00129),(484.2,0.00134),(488.6,0.00123),(493.1,0.00129),
    (497.5,0.00118),(501.9,0.00118),(506.4,0.00113),(510.8,0.00108),(515.2,0.00123),(519.7,0.00113),
    (524.1,0.00113),(528.5,0.00113),(532.9,0.00113),(537.4,0.00108),(541.8,0.00113),(546.2,0.00108),
    (550.7,0.00108),(552.9,0.00093),(555.1,0.00098),(558.4,0.00123),(561.7,0.00123),(565.1,0.00134),
    (568.4,0.00113),(572.8,0.00108),(577.3,0.00108),(581.7,0.00118),(586.1,0.00098),(590.6,0.00113),
    (595.0,0.00103),(599.4,0.00103),(603.9,0.00108),(608.3,0.00103),(612.7,0.00108),(617.1,0.00113),
    (621.6,0.00108),(626.0,0.00103),(630.4,0.00103),(634.9,0.00098),(639.3,0.00113),(643.7,0.00108),
    (648.2,0.00113),(652.6,0.00103),(657.0,0.00103),(661.5,0.00093),(663.7,0.00082),(665.9,0.00108),
    (667.7,0.00113)]

LEFT_LABELS = ['Sensor Data\nElectron Events\nCount rate\ncounts/sec',
               'Sensor Data\nIon Events\nCount rate\ncounts/sec',
               'Sensor Data\nH0 Singles\nCount rate\ncounts/sec',
               'Sensor Data\nH1 Singles\nCount rate\ncounts/sec']
RIGHT_LABELS = ['Sensor Data\nStarts\nCount rate\ncounts/sec',
                'Sensor Data\nStops\nCount rate\ncounts/sec',
                'Sensor Data\nValid TOF\nCount rate\ncounts/sec',
                'Sensor Data\nB 09 Smooth\nCount rate\ncounts/sec']

LEFT_TICKS = [[15, 30, 45, 60, 75], [4, 8, 12, 16, 20], [1.5, 3.0, 4.5, 6.0, 7.5],
              [0.0, 0.075, 0.15, 0.225, 0.3, 0.375]]
LEFT_TICK_LABELS = [['15', '30', '45', '60', '75'], ['4', '8', '12', '16', '20'],
                    ['1.5', '3.0', '4.5', '6.0', '7.5'],
                    ['0.000', '0.075', '0.150', '0.225', '0.300', '0.375']]
RIGHT_TICKS = [[1000, 2000, 3000, 4000, 5000], [1000, 2000, 3000, 4000, 5000], [2, 4, 6, 8, 10],
               [0.0, 0.002, 0.004, 0.006, 0.008, 0.010]]
RIGHT_TICK_LABELS = [['1000', '2000', '3000', '4000', '5000'], ['1000', '2000', '3000', '4000', '5000'],
                     ['2', '4', '6', '8', '10'],
                     ['0.000', '0.002', '0.004', '0.006', '0.008', '0.010']]
LEFT_MAX = [75, 20, 7.5, 0.375]
RIGHT_MAX = [5000, 5000, 10, 0.010]
LEFT_MINOR = [1, 0.25, 0.1, 0.005]
RIGHT_MINOR = [100, 100, 0.2, 0.0002]

# ---------------- style ----------------
CYAN = '#20dfe9'
GREEN = '#22dd22'
RED = '#e01010'
RIGHT_COLORS = [CYAN, GREEN, RED, CYAN]
LEFT_SERIES = [ELECTRON_EVENTS, ION_EVENTS, H0_SINGLES, H1_SINGLES]
RIGHT_SERIES = [STARTS, STOPS, VALID_TOF, B09_SMOOTH]

PANELS_PX = [(27, 353), (373, 697), (721, 1042), (1069, 1393)]
AX_L, AX_R = 353, 1763
LEFT_LABEL_X = [172, 138, 131, 84]
RIGHT_LABEL_X = [2019, 2020, 1960, 2027]
LEFT_LABEL_SIZE = [24, 31, 31, 31]

fig = plt.figure(figsize=(W / DPI, H / DPI), dpi=DPI)
fig.patch.set_facecolor('white')


def fx(px):
    return px / W


def fy(py):
    return 1 - py / H


x_minor = [v for v in range(X_TICKS[0], 673, 22) if v not in X_TICKS]

for i, (top, bot) in enumerate(PANELS_PX):
    ax = fig.add_axes([fx(AX_L), fy(bot), fx(AX_R) - fx(AX_L), (bot - top) / H])
    ax2 = ax.twinx()
    lx = [p[0] for p in LEFT_SERIES[i]]
    ly = [p[1] for p in LEFT_SERIES[i]]
    rx = [p[0] for p in RIGHT_SERIES[i]]
    ry = [p[1] for p in RIGHT_SERIES[i]]
    ax.plot(lx, ly, color='black', lw=2.0, zorder=2)
    ax2.plot(rx, ry, color=RIGHT_COLORS[i], lw=2.1, zorder=3)

    ax.set_xlim(*X_RANGE)
    ax.set_ylim(0, LEFT_MAX[i])
    ax2.set_ylim(0, RIGHT_MAX[i])

    ax.xaxis.set_major_locator(FixedLocator(X_TICKS))
    ax.xaxis.set_minor_locator(FixedLocator(x_minor))
    if i == 3:
        ax.set_xticklabels(X_TICK_LABELS)
    else:
        ax.set_xticklabels([])
    ax.tick_params(axis='x', which='major', direction='in', length=17, width=1.8,
                   top=True, bottom=True, labelsize=32, pad=13)
    ax.tick_params(axis='x', which='minor', direction='in', length=10, width=1.5,
                   top=True, bottom=True)

    ax.yaxis.set_major_locator(FixedLocator(LEFT_TICKS[i]))
    ax.set_yticklabels(LEFT_TICK_LABELS[i])
    ax.yaxis.set_minor_locator(MultipleLocator(LEFT_MINOR[i]))
    ax.tick_params(axis='y', which='major', direction='out', length=21, width=1.8,
                   labelsize=24, pad=4)
    ax.tick_params(axis='y', which='minor', direction='out', length=8, width=1.0)

    ax2.yaxis.set_major_locator(FixedLocator(RIGHT_TICKS[i]))
    ax2.set_yticklabels(RIGHT_TICK_LABELS[i])
    ax2.yaxis.set_minor_locator(MultipleLocator(RIGHT_MINOR[i]))
    ax2.tick_params(axis='y', which='major', direction='out', length=21, width=1.8,
                    labelsize=24, pad=6)
    ax2.tick_params(axis='y', which='minor', direction='out', length=8, width=1.0)

    for a in (ax, ax2):
        for s in a.spines.values():
            s.set_linewidth(2.4)

    cy = (top + bot) / 2
    fig.text(fx(LEFT_LABEL_X[i]), fy(cy), LEFT_LABELS[i], rotation=90, ha='center', va='center',
             multialignment='center', fontsize=LEFT_LABEL_SIZE[i], linespacing=1.05, color='black')
    fig.text(fx(RIGHT_LABEL_X[i]), fy(cy), RIGHT_LABELS[i], rotation=270, ha='center', va='center',
             multialignment='center', fontsize=31, linespacing=1.05, color=RIGHT_COLORS[i])

# annotations
fig.text(fx(1061), fy(116), 'Data Looks Good', color='#008000', fontsize=43,
         ha='left', va='baseline')
fig.text(fx(805), fy(1302), 'What is this Variable? - Not Documented!', color='#ff0000',
         fontsize=34.5, fontweight='bold', ha='left', va='baseline', zorder=10)

arrow1 = FancyArrowPatch((fx(1742), fy(1280)), (fx(1922), fy(1242)), transform=fig.transFigure,
                         arrowstyle='-|>,head_length=2.2,head_width=0.8', mutation_scale=10,
                         color='black', lw=4.0, zorder=10)
fig.add_artist(arrow1)
arrow2 = FancyArrowPatch((fx(1460), fy(1312)), (fx(1460), fy(1358)), transform=fig.transFigure,
                         arrowstyle='-|>,head_length=1.5,head_width=0.75', mutation_scale=10,
                         color='black', lw=3.0, zorder=10)
fig.add_artist(arrow2)

fig.savefig('out.png', dpi=DPI, facecolor='white')
